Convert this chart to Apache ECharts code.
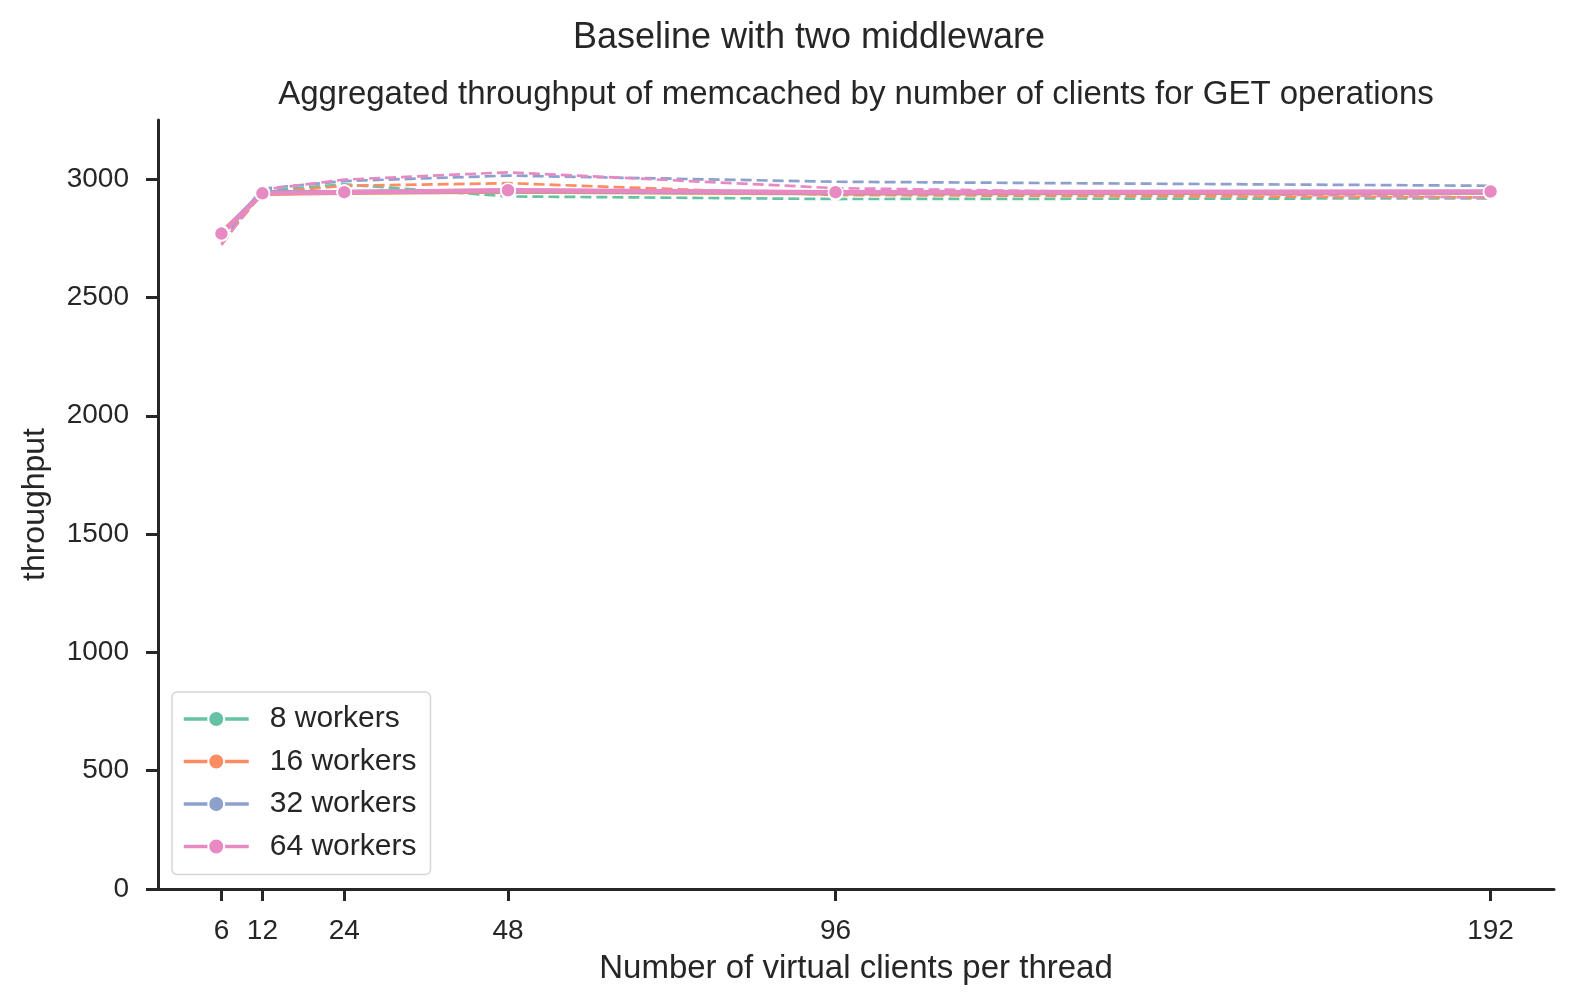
<!DOCTYPE html>
<html>
<head>
<meta charset="utf-8">
<script src="https://cdn.jsdelivr.net/npm/echarts@6/dist/echarts.min.js"></script>
<style>
  html, body { margin: 0; padding: 0; background: #fff; overflow: hidden; }
  #chart { width: 100vw; height: 100vh; }
</style>
</head>
<body>
<div id="chart"></div>
<script>
// clients per thread
var clients = [6, 12, 24, 48, 96, 192];
var workerNames = ['8 workers', '16 workers', '32 workers', '64 workers'];

// measured throughput (solid lines with markers)
var tp8  = [2770, 2940, 2945, 2950, 2942, 2945];
var tp16 = [2775, 2938, 2943, 2948, 2940, 2944];
var tp32 = [2768, 2945, 2946, 2951, 2944, 2946];
var tp64 = [2770, 2940, 2945, 2953, 2945, 2948];

// second estimate (dashed lines)
var est8  = [2735, 2950, 2978, 2927, 2916, 2919];
var est16 = [2730, 2940, 2972, 2983, 2933, 2923];
var est32 = [2745, 2960, 2992, 3015, 2989, 2972];
var est64 = [2722, 2955, 2998, 3029, 2962, 2922];

var yTicks = [0, 500, 1000, 1500, 2000, 2500, 3000];

var colors = ['#66c2a5', '#fc8d62', '#8da0cb', '#e78ac3'];
var measured = [tp8, tp16, tp32, tp64];
var estimated = [est8, est16, est32, est64];
var ink = '#262626';
var font = 'Liberation Sans, Arial, sans-serif';

function pairs(vals) {
    var res = [];
    for (var i = 0; i < clients.length; i++) {
        res.push([clients[i], vals[i]]);
    }
    return res;
}

var series = [];
// dashed ones first so the solid lines sit on top
for (var i = 0; i < workerNames.length; i++) {
    series.push({
        name: workerNames[i] + ' est',
        type: 'line',
        data: pairs(estimated[i]),
        showSymbol: false,
        symbol: 'none',
        silent: true,
        z: 2,
        lineStyle: {color: colors[i], width: 2.7, type: [11, 5]},
        itemStyle: {color: colors[i]}
    });
}
for (var i = 0; i < workerNames.length; i++) {
    series.push({
        name: workerNames[i],
        type: 'line',
        data: pairs(measured[i]),
        symbol: 'circle',
        symbolSize: 14,
        z: 3,
        lineStyle: {color: colors[i], width: 4.5},
        itemStyle: {color: colors[i], borderColor: '#fff', borderWidth: 1.5}
    });
}

var myChart = echarts.init(document.getElementById('chart'));
myChart.setOption({
    backgroundColor: '#fff',
    animation: false,
    textStyle: {fontFamily: font},
    title: [{
        text: 'Baseline with two middleware',
        left: 804,
        textAlign: 'center',
        top: 15,
        textStyle: {fontSize: 36, fontWeight: 'normal', color: ink, fontFamily: font}
    }, {
        text: 'Aggregated throughput of memcached by number of clients for GET operations',
        left: 851,
        textAlign: 'center',
        top: 73,
        textStyle: {fontSize: 33, fontWeight: 'normal', color: ink, fontFamily: font}
    }],
    grid: {left: 158, right: 23, top: 120, bottom: 117, containLabel: false},
    legend: {
        data: workerNames,
        orient: 'vertical',
        left: 172,
        top: 692,
        padding: [12, 14, 13, 10],
        itemGap: 12.5,
        itemWidth: 65,
        itemHeight: 20,
        backgroundColor: '#fff',
        borderColor: '#d6d6d6',
        borderWidth: 1.5,
        borderRadius: 5,
        lineStyle: {width: 3.5},
        textStyle: {fontSize: 30, lineHeight: 30, color: ink, fontFamily: font, padding: [0, 0, 0, 16]}
    },
    xAxis: {
        type: 'value',
        min: -3.3,
        max: 201.3,
        name: 'Number of virtual clients per thread',
        nameLocation: 'middle',
        nameGap: 63,
        nameTextStyle: {fontSize: 33, color: ink, fontFamily: font},
        splitLine: {show: false},
        axisLine: {show: true, onZero: false, lineStyle: {color: ink, width: 3}},
        axisTick: {show: true, length: 12, lineStyle: {color: ink, width: 3}, customValues: clients},
        axisLabel: {fontSize: 28, color: ink, margin: 28, fontFamily: font, customValues: clients}
    },
    yAxis: {
        type: 'value',
        min: 0,
        max: 3250,
        name: 'throughput',
        nameLocation: 'middle',
        nameGap: 107,
        nameRotate: 90,
        nameTextStyle: {fontSize: 32, color: ink, fontFamily: font},
        splitLine: {show: false},
        axisLine: {show: true, onZero: false, lineStyle: {color: ink, width: 3}},
        axisTick: {show: true, length: 12, lineStyle: {color: ink, width: 3}, customValues: yTicks},
        axisLabel: {
            fontSize: 28, color: ink, margin: 29, fontFamily: font, customValues: yTicks,
            formatter: function (v) { return String(v); }
        }
    },
    series: series
});
</script>
</body>
</html>
